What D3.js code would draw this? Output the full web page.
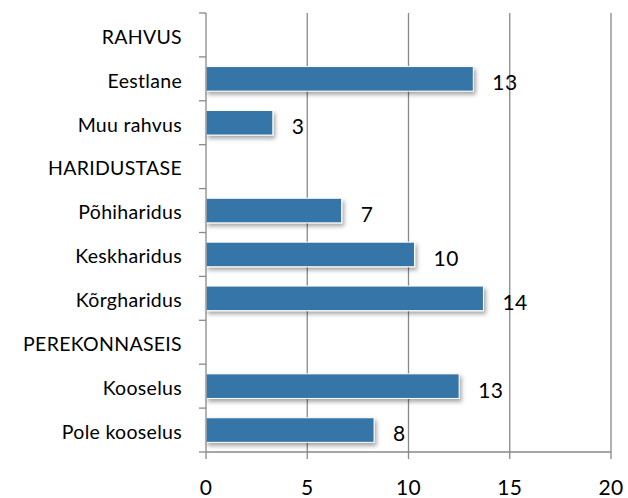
<!DOCTYPE html>
<html><head><meta charset="utf-8">
<script src="https://cdn.jsdelivr.net/npm/d3@7"></script>
<style>body{margin:0;background:#fff}svg{display:block}text{font-family:Lato,"Open Sans",sans-serif;fill:#000}</style>
</head><body><svg id="c" width="628" height="498"></svg>
<script>
const categories = ["RAHVUS","Eestlane","Muu rahvus","HARIDUSTASE","Põhiharidus","Keskharidus","Kõrgharidus","PEREKONNASEIS","Kooselus","Pole kooselus"];
const values = [null,13.2,3.3,null,6.7,10.3,13.7,null,12.5,8.3];
const xTicks = [0,5,10,15,20];

const svg = d3.select("#c");
const m = {left:206, right:611, top:13, bottom:452};
const x = d3.scaleLinear().domain([0,20]).range([m.left,m.right]);
const y = d3.scaleBand().domain(categories).range([m.top,m.bottom]).paddingInner(0.44).paddingOuter(0.22);
const yb = d3.scaleBand().domain(categories).range([m.top,m.bottom]);

const defs = svg.append("defs");
const f = defs.append("filter").attr("id","sh").attr("x","-10%").attr("y","-30%").attr("width","130%").attr("height","200%");
f.append("feDropShadow").attr("dx",2).attr("dy",3).attr("stdDeviation",2).attr("flood-color","#000").attr("flood-opacity",0.35);

// gridlines
svg.append("g").selectAll("line").data(xTicks.slice(1)).join("line")
  .attr("x1",d=>x(d)).attr("x2",d=>x(d)).attr("y1",m.top).attr("y2",m.bottom)
  .attr("stroke","#898989").attr("stroke-width",1.3);

// bars
const data = categories.map((c,i)=>({c,v:values[i]})).filter(d=>d.v!=null);
svg.append("g").selectAll("rect").data(data).join("rect")
  .attr("x",x(0)).attr("y",d=>y(d.c)).attr("width",d=>x(d.v)-x(0)).attr("height",y.bandwidth())
  .attr("fill","#3474a7").attr("stroke","#fff").attr("stroke-width",1).attr("filter","url(#sh)");

// value labels
svg.append("g").selectAll("text").data(data).join("text")
  .attr("x",d=>x(d.v)+19).attr("y",d=>y(d.c)+y.bandwidth()/2+4).attr("dy","0.35em")
  .attr("font-size",21).attr("letter-spacing",0.4).text(d=>d3.format(".0f")(d.v));

// y axis
const ya = svg.append("g");
ya.append("line").attr("x1",m.left).attr("x2",m.left).attr("y1",m.top).attr("y2",m.bottom).attr("stroke","#898989").attr("stroke-width",1.3);
const bounds = categories.map(c=>yb(c)).concat([m.bottom]);
ya.selectAll("line.t").data(bounds).join("line").attr("class","t")
  .attr("x1",m.left-7).attr("x2",m.left).attr("y1",d=>d).attr("y2",d=>d).attr("stroke","#898989").attr("stroke-width",1.3);
ya.selectAll("text").data(categories).join("text")
  .attr("x",182).attr("y",d=>yb(d)+yb.bandwidth()/2+2).attr("dy","0.35em").attr("text-anchor","end")
  .attr("font-size",19.5).attr("letter-spacing",0.3).text(d=>d);

// x axis
const xa = svg.append("g");
xa.append("line").attr("x1",m.left).attr("x2",m.right).attr("y1",m.bottom).attr("y2",m.bottom).attr("stroke","#898989").attr("stroke-width",1.3);
xa.selectAll("line.t").data(xTicks).join("line").attr("class","t")
  .attr("x1",d=>x(d)).attr("x2",d=>x(d)).attr("y1",m.bottom).attr("y2",m.bottom+7).attr("stroke","#898989").attr("stroke-width",1.3);
xa.selectAll("text").data(xTicks).join("text")
  .attr("x",d=>x(d)).attr("y",488).attr("dy","0.35em").attr("text-anchor","middle")
  .attr("font-size",21).attr("letter-spacing",0.4).text(d=>d);
</script></body></html>
